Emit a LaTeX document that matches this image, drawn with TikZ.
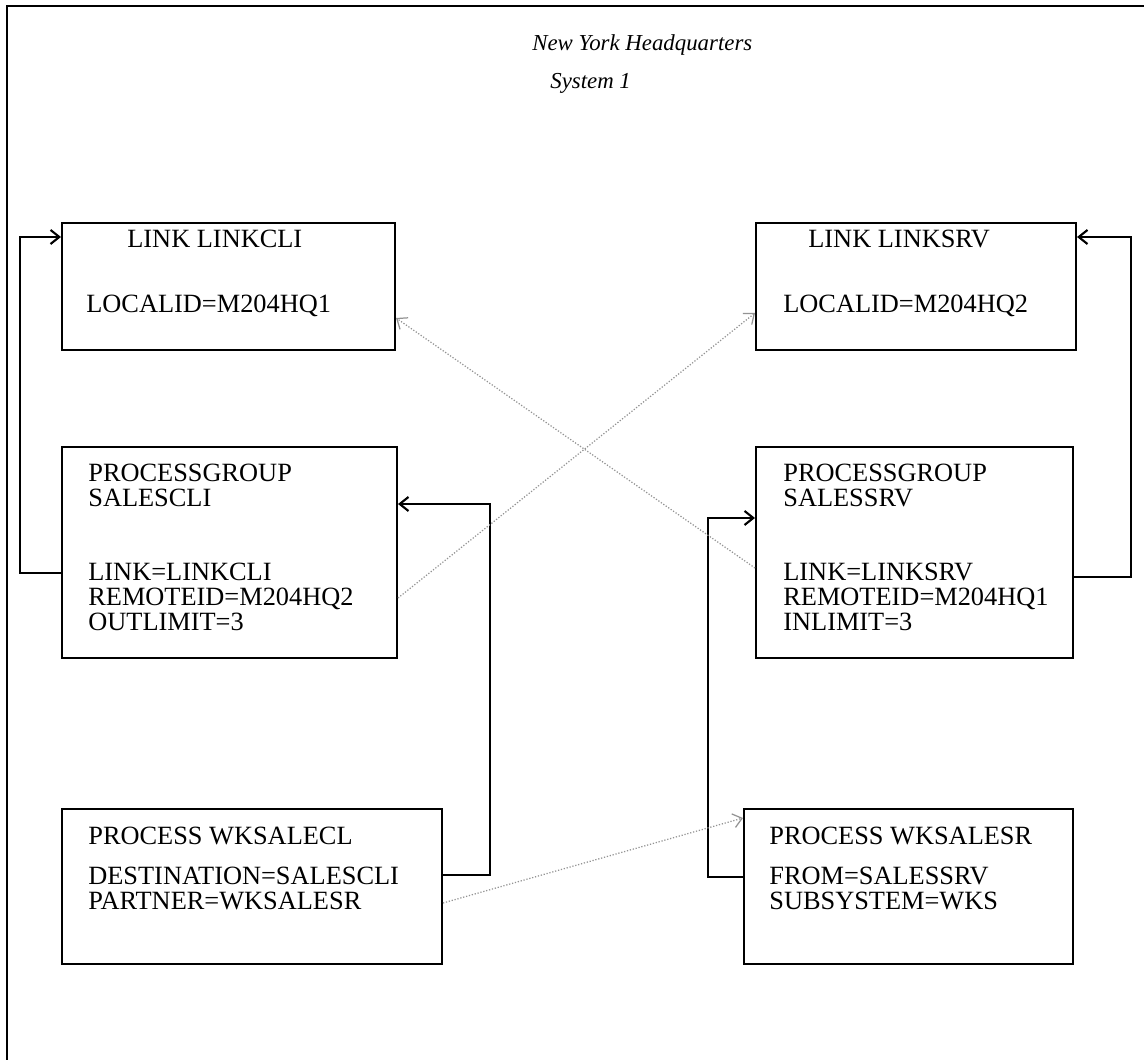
\documentclass[tikz,border=0pt]{standalone}
\usepackage{fontspec}
\setmainfont{Liberation Serif}
\usetikzlibrary{arrows.meta}

\tikzset{
  box/.style={draw,line width=1.2pt,anchor=north west,inner sep=0pt},
  txt/.style={anchor=base west,inner sep=0pt,font=\fontsize{15}{17}\selectfont},
  ttl/.style={anchor=base west,inner sep=0pt,font=\fontsize{13}{15}\selectfont\itshape},
  link/.style={line width=1.2pt,-{Straight Barb[length=5pt,width=8pt]}},
  cross/.style={gray!85,densely dotted,line width=0.7pt,-{Straight Barb[length=5pt,width=8pt]}},
}

\begin{document}
\begin{tikzpicture}[x=0.02cm,y=-0.02cm]
  \useasboundingbox (0,0) rectangle (1144,1060);

  % page frame
  \draw[line width=1.2pt] (1144,6) -- (7,6) -- (7,1060);

  % title
  \node[ttl] (ttla) at (532,51) {New York Headquarters};
  \node[ttl] (ttlb) at (550,89) {System 1};

  %%%% boxes
  \node[box,minimum width=6.66cm,minimum height=2.54cm] (lnkcli) at (61,222) {};
  \node[box,minimum width=6.4cm,minimum height=2.54cm] (lnksrv) at (755,222) {};
  \node[box,minimum width=6.7cm,minimum height=4.22cm] (pgcli) at (61,446) {};
  \node[box,minimum width=6.34cm,minimum height=4.22cm] (pgsrv) at (755,446) {};
  \node[box,minimum width=7.6cm,minimum height=3.1cm] (prcli) at (61,808) {};
  \node[box,minimum width=6.58cm,minimum height=3.1cm] (prsrv) at (743,808) {};

  %%%% texts, left side
  \node[txt] (lnkclia) at (127,248) {LINK LINKCLI};
  \node[txt] (lnkclib) at (86,313) {LOCALID=M204HQ1};
  \node[txt] (pgclia) at (88,482) {PROCESSGROUP};
  \node[txt] (pgclib) at (88,507) {SALESCLI};
  \node[txt] (pgclic) at (88,581) {LINK=LINKCLI};
  \node[txt] (pgclid) at (88,606) {REMOTEID=M204HQ2};
  \node[txt] (pgclie) at (88,631) {OUTLIMIT=3};
  \node[txt] (prclia) at (88,845) {PROCESS WKSALECL};
  \node[txt] (prclib) at (88,885) {DESTINATION=SALESCLI};
  \node[txt] (prclic) at (88,910) {PARTNER=WKSALESR};

  %%%% texts, right side
  \node[txt] (lnksrva) at (808,248) {LINK LINKSRV};
  \node[txt] (lnksrvb) at (783,313) {LOCALID=M204HQ2};
  \node[txt] (pgsrva) at (783,482) {PROCESSGROUP};
  \node[txt] (pgsrvb) at (783,507) {SALESSRV};
  \node[txt] (pgsrvc) at (783,581) {LINK=LINKSRV};
  \node[txt] (pgsrvd) at (783,606) {REMOTEID=M204HQ1};
  \node[txt] (pgsrve) at (783,631) {INLIMIT=3};
  \node[txt] (prsrva) at (769,845) {PROCESS WKSALESR};
  \node[txt] (prsrvb) at (769,885) {FROM=SALESSRV};
  \node[txt] (prsrvc) at (769,910) {SUBSYSTEM=WKS};

  %%%% loops
  \coordinate (lloop) at (20,237);
  \coordinate (rloop) at (1131,237);
  \coordinate (cbend) at (490,504);
  \coordinate (sbend) at (708,518);
  \draw[link] (pgcli.west |- 0,573) -| (lloop) -- (lnkcli.west |- lloop);
  \draw[link] (pgsrv.east |- 0,577) -| (rloop) -- (lnksrv.east |- rloop);
  \draw[link] (prcli.east |- 0,875) -| (cbend) -- (pgcli.east |- cbend);
  \draw[link] (prsrv.west |- 0,877) -| (sbend) -- (pgsrv.west |- sbend);

  %%%% crossing links
  \draw[cross] (pgcli.east |- 0,598) -- (lnksrv.west |- 0,313);
  \draw[cross] (pgsrv.west |- 0,568) -- (lnkcli.east |- 0,318);
  \draw[cross] (prcli.east |- 0,903) -- (prsrv.west |- 0,818);
\end{tikzpicture}
\end{document}
